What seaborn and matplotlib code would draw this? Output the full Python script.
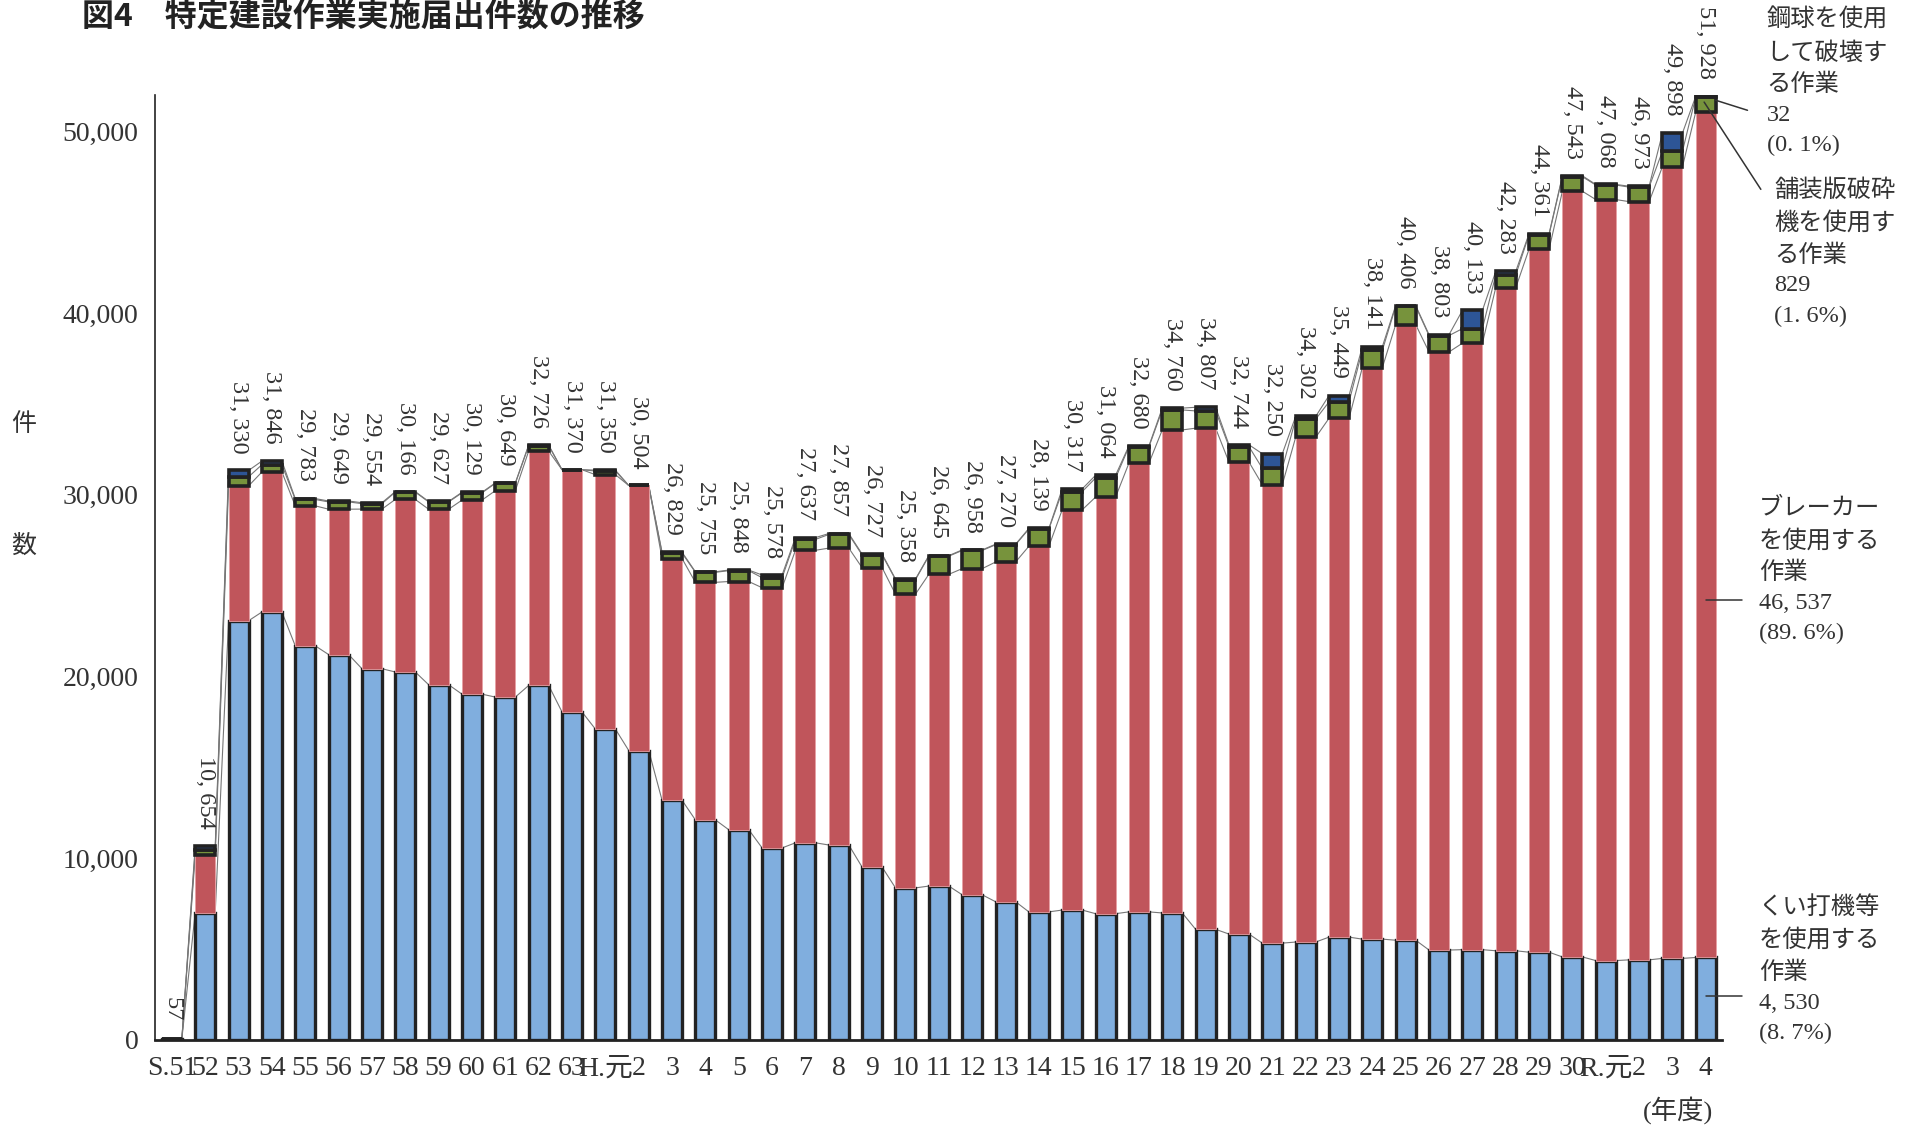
import numpy as np
import pandas as pd
import seaborn as sns
import matplotlib.pyplot as plt
from matplotlib.ticker import FixedLocator


years = ["S.51", "52", "53", "54", "55", "56", "57", "58", "59", "60", "61", "62", "63",
         "H.元", "2", "3", "4", "5", "6", "7", "8", "9", "10", "11", "12", "13", "14", "15",
         "16", "17", "18", "19", "20", "21", "22", "23", "24", "25", "26", "27", "28", "29",
         "30", "R.元", "2", "3", "4"]

total = [57, 10654, 31330, 31846, 29783, 29649, 29554, 30166, 29627, 30129, 30649, 32726,
         31370, 31350, 30504, 26829, 25755, 25848, 25578, 27637, 27857, 26727, 25358, 26645,
         26958, 27270, 28139, 30317, 31064, 32680, 34760, 34807, 32744, 32250, 34302, 35449,
         38141, 40406, 38803, 40133, 42283, 44361, 47543, 47068, 46973, 49898, 51928]

# くい打機等
pile = [57, 7000, 23060, 23540, 21680, 21200, 20420, 20240, 19540, 19020, 18860, 19500,
        18040, 17100, 15920, 13180, 12100, 11560, 10560, 10840, 10720, 9500, 8360, 8460,
        7980, 7600, 7040, 7140, 6940, 7040, 6980, 6080, 5820, 5320, 5380, 5650,
        5540, 5480, 4940, 4960, 4900, 4820, 4560, 4360, 4400, 4480, 4530]

# 舗装版破砕機
paving = [0, 300, 500, 400, 350, 400, 300, 400, 400, 400, 400, 300,
          0, 200, 0, 300, 550, 600, 550, 600, 750, 700, 800, 1000,
          1000, 950, 950, 1000, 1050, 900, 1100, 950, 850, 900, 1000, 900,
          950, 1000, 900, 800, 700, 800, 800, 800, 800, 850, 829]

# 鋼球
steel = [0, 200, 350, 200, 50, 50, 50, 30, 30, 30, 30, 30,
         0, 50, 0, 50, 30, 30, 150, 100, 50, 50, 30, 30,
         30, 30, 30, 150, 150, 50, 100, 200, 100, 800, 150, 350,
         200, 50, 50, 1000, 200, 50, 50, 30, 50, 1000, 32]

# ブレーカー = 残り
breaker = [t - p - g - s for t, p, g, s in zip(total, pile, paving, steel)]

c_pile = "#80AEDE"
c_break = "#C0555B"
c_pave = "#77933C"
c_steel = "#2D5596"

sns.set_style("white")
plt.rcParams['font.family'] = ['Liberation Serif', 'Noto Sans CJK JP']

fig = plt.figure(figsize=(19.16, 11.29), dpi=100)
ax = fig.add_axes([0.081, 0.079, 0.818, 0.837])

df = pd.DataFrame({"year": [f"{i:02d}" for i in range(len(years))],
                   "pile": pile, "breaker": breaker, "paving": paving, "steel": steel})
b1 = np.array(pile)
b2 = b1 + np.array(breaker)
b3 = b2 + np.array(paving)

W = 0.6
sns.barplot(data=df, x="year", y="pile", color=c_pile, width=W, edgecolor="#222222",
            linewidth=2.4, saturation=1, ax=ax)
sns.barplot(data=df, x="year", y="breaker", color=c_break, width=W, edgecolor="#E8A0A4",
            linewidth=0.6, saturation=1, bottom=b1, ax=ax)
sns.barplot(data=df, x="year", y="paving", color=c_pave, width=W, edgecolor="#222222",
            linewidth=2.6, saturation=1, bottom=b2, ax=ax)
sns.barplot(data=df, x="year", y="steel", color=c_steel, width=W, edgecolor="#222222",
            linewidth=2.6, saturation=1, bottom=b3, ax=ax)

# series lines between bars
for lvl in [b1, b2, b3, np.array(total)]:
    for i in range(len(years) - 1):
        ax.plot([i + W / 2, i + 1 - W / 2], [lvl[i], lvl[i + 1]], color="#777777",
                lw=0.8, zorder=0.5)

# totals
for i, t in enumerate(total):
    ax.text(i, t + 950, f"{t:,}".replace(",", ", "), rotation=270, ha="center",
            va="bottom", fontsize=17.5, color="#333333")

ax.set_xlim(-0.5, len(years) - 0.5)
ax.set_ylim(0, 52000)
ax.set_yticks(range(0, 50001, 10000))
ax.set_yticklabels([f"{v:,}" for v in range(0, 50001, 10000)], fontsize=20, color="#333333")
ax.set_xticks(range(len(years)))
ax.set_xticklabels(years, fontsize=20, color="#333333")
ax.xaxis.set_minor_locator(FixedLocator(np.arange(0.5, len(years) - 0.5, 1)))
ax.tick_params(axis="x", which="major", length=0, pad=12)
ax.tick_params(axis="x", which="minor", direction="in", length=7, color="#888888", width=1.2)
ax.tick_params(axis="y", direction="in", length=8, color="#333333", pad=12)
ax.set_xlabel("")
ax.set_ylabel("")
for side in ["top", "right"]:
    ax.spines[side].set_visible(False)
for side in ["left", "bottom"]:
    ax.spines[side].set_color("#222222")
    ax.spines[side].set_linewidth(1.2)
ax.spines["bottom"].set_linewidth(2)

# leader lines for the latest year
kw = dict(color="#333333", lw=1.1, clip_on=False)
ax.plot([46.3, 47.25], [51700, 51150], **kw)
ax.plot([45.95, 47.65], [51600, 46800], **kw)
ax.plot([46.02, 47.1], [24200, 24200], **kw)
ax.plot([46.02, 47.1], [2400, 2400], **kw)

ann = dict(fontsize=17.5, color="#333333", va="top", ha="left", linespacing=1.55)
fig.text(0.922, 0.992, "鋼球を使用\nして破壊す\nる作業\n32\n(0. 1%)", **ann)
fig.text(0.926, 0.841, "舗装版破砕\n機を使用す\nる作業\n829\n(1. 6%)", **ann)
fig.text(0.918, 0.559, "ブレーカー\nを使用する\n作業\n46, 537\n(89. 6%)", **ann)
fig.text(0.918, 0.206, "くい打機等\nを使用する\n作業\n4, 530\n(8. 7%)", **ann)

fig.text(0.0125, 0.624, "件", fontsize=18, color="#333333", ha="center", va="center")
fig.text(0.0125, 0.516, "数", fontsize=18, color="#333333", ha="center", va="center")
fig.text(0.876, 0.017, "(年度)", fontsize=19, color="#333333", ha="center", va="center")

fig.text(0.043, 0.985, "図4　特定建設作業実施届出件数の推移", fontsize=23, fontweight="bold",
         family=["Noto Sans CJK JP"], color="#222222", ha="left", va="center")

fig.savefig("out.png", dpi=100)
